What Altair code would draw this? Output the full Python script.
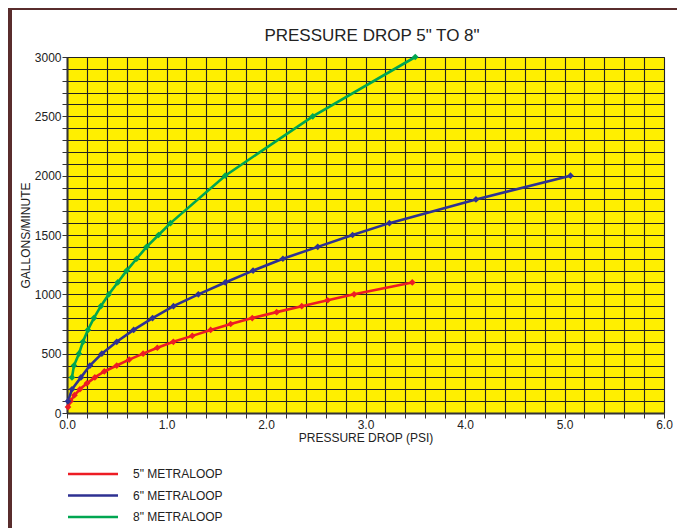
import altair as alt
import pandas as pd

# ---- data ----
chart_title = 'PRESSURE DROP 5" TO 8"'
series_names = ['5" METRALOOP', '6" METRALOOP', '8" METRALOOP']
series_colors = ["#ED1C24", "#2E3192", "#00A651"]

red_gpm = [50, 100, 150, 200, 250, 300, 350, 400, 450, 500, 550, 600, 650, 700,
           750, 800, 850, 900, 950, 1000, 1100]
red_psi = [0.01, 0.035, 0.075, 0.13, 0.20, 0.28, 0.375, 0.50, 0.625, 0.765, 0.908,
           1.069, 1.259, 1.444, 1.645, 1.862, 2.107, 2.359, 2.62, 2.885, 3.47]

blue_gpm = [100, 200, 300, 400, 500, 600, 700, 800, 900, 1000, 1100, 1200, 1300,
            1400, 1500, 1600, 1800, 2000]
blue_psi = [0.01, 0.05, 0.14, 0.23, 0.35, 0.50, 0.67, 0.86, 1.07, 1.32, 1.59, 1.87,
            2.17, 2.52, 2.87, 3.24, 4.11, 5.06]

green_gpm = [300, 400, 500, 600, 700, 800, 900, 1000, 1100, 1200, 1300, 1400, 1500,
             1600, 2000, 2500, 3000]
green_psi = [0.05, 0.07, 0.12, 0.16, 0.21, 0.27, 0.34, 0.42, 0.51, 0.60, 0.70, 0.80,
             0.92, 1.04, 1.59, 2.47, 3.50]

x_ticks = [round(i * 0.2, 1) for i in range(31)]
y_ticks = [i * 100 for i in range(31)]

rows = []
for name, gpm, psi in zip(series_names, [red_gpm, blue_gpm, green_gpm],
                          [red_psi, blue_psi, green_psi]):
    for q, p in zip(gpm, psi):
        rows.append({"series": name, "gpm": q, "psi": p})
df = pd.DataFrame(rows)

FONT = "Liberation Sans"

x_axis = alt.Axis(
    values=x_ticks,
    labelExpr="abs(datum.value - round(datum.value)) < 0.001 ? format(datum.value, '.1f') : ''",
    title="PRESSURE DROP (PSI)", labelFlush=False,
    grid=True, gridColor="#222222", gridWidth=1.1,
    domainColor="#333333", domainWidth=2,
    tickColor="#333333", tickSize=5, tickWidth=1,
    labelFontSize=12, labelColor="#222222", labelPadding=1, labelFont=FONT,
    titleFontSize=12, titleFontWeight="normal", titleColor="#222222", titlePadding=2,
    titleFont=FONT,
)
y_axis = alt.Axis(
    values=y_ticks,
    labelExpr="datum.value % 500 == 0 ? datum.value : ''",
    title="GALLONS/MINUTE", labelFlush=False,
    grid=True, gridColor="#222222", gridWidth=1.1,
    domainColor="#333333", domainWidth=2,
    tickColor="#333333", tickSize=5, tickWidth=1,
    labelFontSize=12, labelColor="#222222", labelPadding=1, labelFont=FONT,
    titleFontSize=12, titleFontWeight="normal", titleColor="#222222", titlePadding=2,
    titleFont=FONT,
)

lines = alt.Chart(df).mark_line(
    strokeWidth=2.6,
    point=alt.OverlayMarkDef(shape="diamond", size=45, filled=True),
).encode(
    x=alt.X("psi:Q", scale=alt.Scale(domain=[0, 6], nice=False), axis=x_axis),
    y=alt.Y("gpm:Q", scale=alt.Scale(domain=[0, 3000], nice=False), axis=y_axis),
    color=alt.Color(
        "series:N",
        scale=alt.Scale(domain=series_names, range=series_colors),
        legend=alt.Legend(
            title=None, orient="none", legendX=19.5, legendY=410.5, padding=0,
            symbolType="M-5,0H5", symbolSize=100, symbolStrokeWidth=2.5,
            labelFontSize=12, labelColor="#222222", labelFont=FONT,
            labelOffset=33.5, rowPadding=8.5,
        ),
    ),
    order="gpm:Q",
)

frame = alt.Chart(df).mark_rect(
    fill=None, stroke="#5a2d2d", strokeWidth=2.5, clip=False
).encode(
    x=alt.value(-57), x2=alt.value(616), y=alt.value(-49), y2=alt.value(490)
)

title_text = alt.Chart(pd.DataFrame({"t": [chart_title]})).mark_text(
    fontSize=17, font=FONT, color="#222222", align="center", baseline="middle"
).encode(text="t:N", x=alt.value(305), y=alt.value(-21))

chart = alt.layer(frame, title_text, lines).properties(
    width=597, height=356,
    padding={"left": 59, "top": 49, "right": 13, "bottom": 115},
    autosize=alt.AutoSizeParams(type="none"),
    background="white",
).configure_view(
    fill="#FFEF00", stroke="#444444", strokeWidth=1,
)

chart.save("out.html", embed_options={"renderer": "svg", "actions": False})
